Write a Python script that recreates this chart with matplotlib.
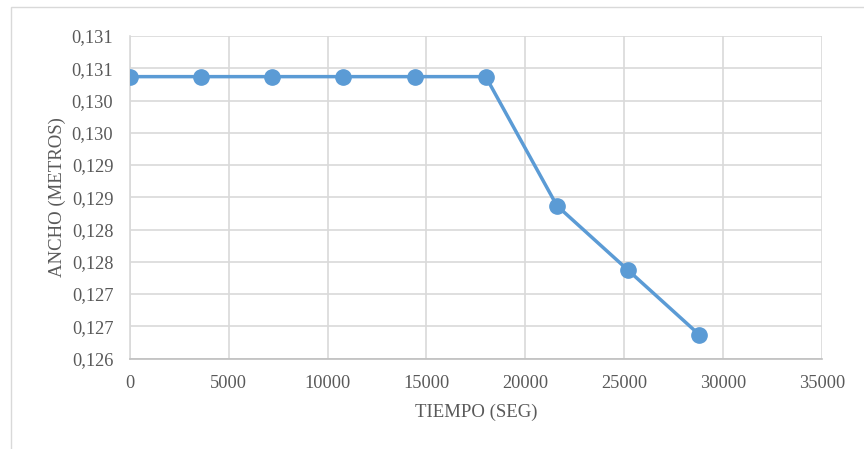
import matplotlib.pyplot as plt
from matplotlib.ticker import FuncFormatter, MultipleLocator
from matplotlib.patches import Rectangle

tiempo = [0, 3600, 7200, 10800, 14400, 18000, 21600, 25200, 28800]
ancho = [0.13037, 0.13037, 0.13037, 0.13037, 0.13037, 0.13037, 0.12837, 0.12737, 0.12637]

plt.rcParams['font.family'] = 'Liberation Serif'

fig = plt.figure(figsize=(8.64, 4.49), dpi=100)
ax = fig.add_axes([130 / 864, 1 - 358.5 / 449, 691.7 / 864, 322.5 / 449])

# light frame around the chart area
fig.patches.append(Rectangle((11 / 864, -0.1), 1.2, 1 - 7 / 449 + 0.1,
                             transform=fig.transFigure, fill=False,
                             edgecolor='#d9d9d9', linewidth=1))

ax.plot(tiempo, ancho, color='#5b9bd5', linewidth=2.5, marker='o',
        markersize=11, zorder=3)

ax.set_xlim(0, 35000)
ax.set_ylim(0.126, 0.131)
ax.xaxis.set_major_locator(MultipleLocator(5000))
ax.yaxis.set_major_locator(MultipleLocator(0.0005))
ax.yaxis.set_major_formatter(FuncFormatter(lambda v, p: f'{v:.3f}'.replace('.', ',')))

ax.grid(True, color='#d9d9d9', linewidth=1.2)
ax.set_axisbelow(True)
for s in ['top', 'right']:
    ax.spines[s].set_visible(False)
ax.spines['left'].set_color('#d9d9d9')
ax.spines['bottom'].set_color('#bfbfbf')
ax.spines['left'].set_linewidth(1.2)
ax.spines['bottom'].set_linewidth(1.2)
ax.tick_params(length=0, labelsize=13.2, colors='#595959')
ax.tick_params(axis='x', pad=12)
ax.tick_params(axis='y', pad=12)

ax.set_xlabel('TIEMPO (SEG)', fontsize=13.5, color='#595959', labelpad=8)
ax.set_ylabel('ANCHO (METROS)', fontsize=13.5, color='#595959', labelpad=4)

fig.savefig('out.png', dpi=100)
